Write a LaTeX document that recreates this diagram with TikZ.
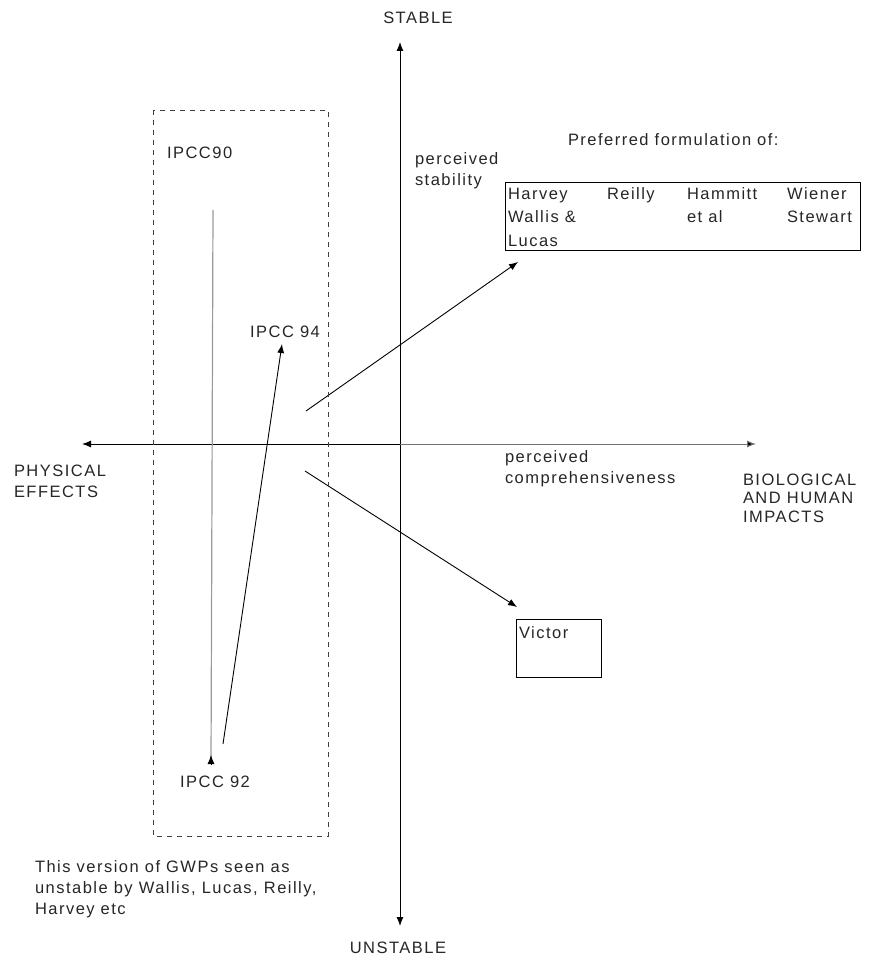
\documentclass[tikz,border=0pt]{standalone}
\usepackage{fontspec}
\setmainfont{Liberation Sans}[LetterSpace=9]
\usetikzlibrary{arrows.meta}
\begin{document}
\begin{tikzpicture}[x=1pt,y=-1pt,
  every node/.style={inner sep=0pt,outer sep=0pt,font=\fontsize{16.5}{21}\selectfont,text=black!85},
  lbl/.style={anchor=west,align=left},
  axis/.style={line width=1pt,-{Latex[length=9pt,width=7pt]}},
  conn/.style={line width=0.9pt,-{Latex[length=9pt,width=7pt]}},
  frame/.style={draw,line width=0.8pt}]
\useasboundingbox (0,0) rectangle (869,960);
% axes
\coordinate (o) at (400,444);
\coordinate (vtop) at (400,42);
\coordinate (vbot) at (400,926);
\coordinate (hleft) at (82,444);
\coordinate (hright) at (756,444);
\draw[axis] (o) -- (vtop);
\draw[axis] (o) -- (vbot);
\draw[axis] (o) -- (hleft);
\draw[axis,draw=black!55,-{Latex[length=9pt,width=7pt,fill=black]}] (o) -- (hright);
\node (stable) at (418,18) {STABLE};
\node (unstable) at (398,948) {UNSTABLE};
\node[lbl] (physical) at (14,481) {PHYSICAL\\EFFECTS};
\node[lbl,font=\fontsize{16.5}{18.5}\selectfont] (bio) at (743,498) {BIOLOGICAL\\AND HUMAN\\IMPACTS};
\node[lbl] (comp) at (505,469) {perceived\\comprehensiveness};
\node[lbl] (stab) at (415,171) {perceived\\stability};
\node[lbl] (pref) at (568,140) {Preferred formulation of:};
% preferred box
\node[frame,minimum width=355pt,minimum height=68pt] (box) at (682.5,216) {};
\node[lbl,font=\fontsize{16.5}{23.5}\selectfont] (harvey) at (508,217) {Harvey\\Wallis \&\\Lucas};
\node[lbl] (reilly) at (607,195) {Reilly};
\node[lbl,font=\fontsize{16.5}{23.5}\selectfont] (hammitt) at (687,205) {Hammitt\\et al};
\node[lbl,font=\fontsize{16.5}{23.5}\selectfont] (wiener) at (787,205) {Wiener\\Stewart};
% victor box
\node[frame,minimum width=85pt,minimum height=58pt] (victorbox) at (558.5,648) {};
\node[lbl] (victor) at (519,633) {Victor};
% arrows to boxes
\coordinate (a1s) at (306,411);
\coordinate (a1e) at (518,262);
\draw[conn] (a1s) -- (a1e);
\coordinate (a2s) at (305,471);
\coordinate (a2e) at (517,607);
\draw[conn] (a2s) -- (a2e);
% dashed region
\draw[line width=0.8pt,dash pattern=on 5pt off 5pt,draw=black!75] (153,110) rectangle (328,836);
\node[lbl] (ipcc90) at (167,153) {IPCC90};
\node (ipcc94) at (285,332) {IPCC 94};
\node (ipcc92) at (215,782) {IPCC 92};
\coordinate (g1) at (213,210);
\coordinate (g2) at (211,755);
\draw[line width=1.2pt,draw=black!40] (g1) -- ([yshift=-8pt]g2);
\draw[conn,draw=black,-{Latex[length=9pt,width=7pt]}] ([yshift=-10pt]g2) -- (g2);
\coordinate (b1) at (223,744);
\coordinate (b2) at (282,344);
\draw[conn] (b1) -- (b2);
% bottom note
\node[lbl] (note) at (35,889) {This version of GWPs seen as\\unstable by Wallis, Lucas, Reilly,\\Harvey etc};
\end{tikzpicture}
\end{document}
